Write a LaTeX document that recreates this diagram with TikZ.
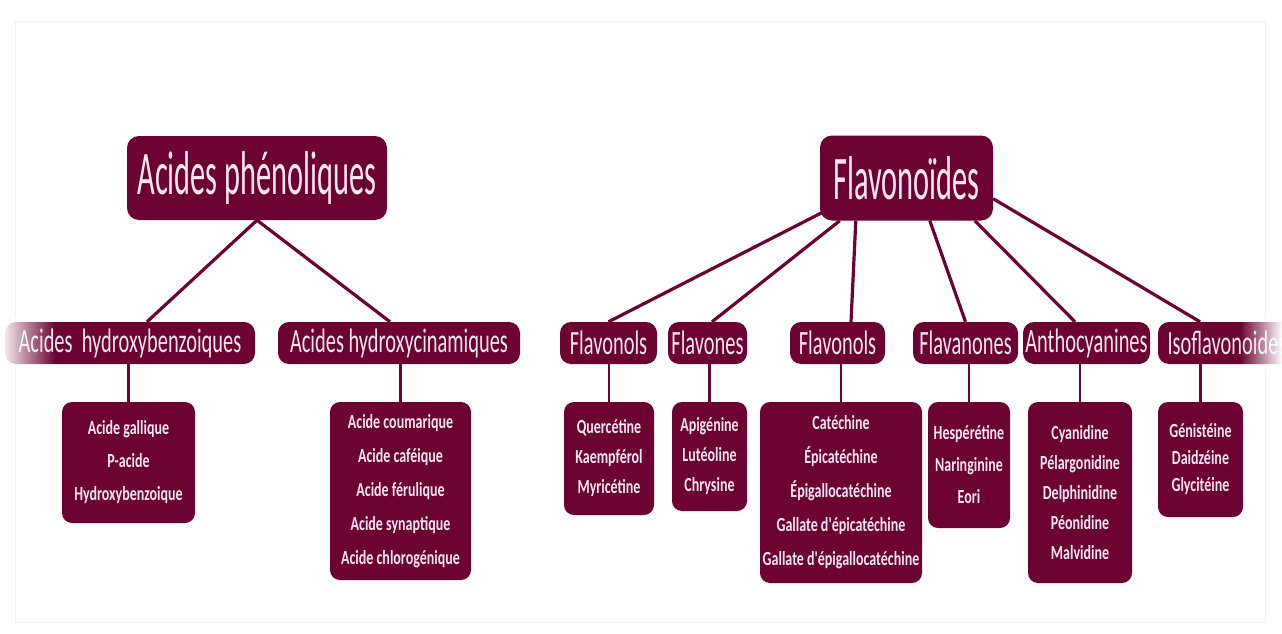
\documentclass[tikz,border=0pt]{standalone}
\usepackage{fontspec}
\usetikzlibrary{backgrounds,fadings,calc}
\newfontfamily\ftitle[FakeStretch=0.49]{Carlito}
\newfontfamily\fmid[FakeStretch=0.6]{Carlito}
\newfontfamily\fleaf[FakeStretch=0.7]{Carlito}
\definecolor{maroon}{RGB}{108,2,50}
\definecolor{pinkw}{RGB}{250,230,240}
\tikzset{
  box/.style={fill=maroon, text=pinkw, inner sep=0pt, align=center},
  titlebox/.style={box, rounded corners=12pt, font=\ftitle\fontsize{62pt}{70pt}\selectfont},
  midbox/.style={box, rounded corners=11pt, minimum height=42pt, font=\fmid\fontsize{34pt}{40pt}\selectfont},
  leafbox/.style={box, rounded corners=10pt, font=\fleaf\bfseries\fontsize{20pt}{#1pt}\selectfont},
  link/.style={draw=maroon, line width=3.2pt},
  drop/.style={draw=maroon, line width=2.4pt}
}
\begin{document}
\begin{tikzpicture}[x=1pt,y=-1pt]
\useasboundingbox (0,0) rectangle (1282,634);
\draw[gray!10, line width=1pt] (15,22) rectangle (1265,622);

% titles
\node[titlebox, minimum width=260pt, minimum height=84pt] (ap) at (257,178) {Acides phénoliques};
\node[titlebox, minimum width=173pt, minimum height=85pt] (fl) at (906.5,178) {Flavonoïdes};

% level 2
\node[midbox, minimum width=250pt] (a1) at (130,343) {Acides~~hydroxybenzoiques};
\node[midbox, minimum width=242pt] (a2) at (399,343) {Acides hydroxycinamiques};
\node[midbox, minimum width=97pt] (g1) at (608.5,343) {Flavonols};
\node[midbox, minimum width=79pt] (g2) at (707.5,343) {Flavones};
\node[midbox, minimum width=95pt] (g3) at (837.5,343) {Flavonols};
\node[midbox, minimum width=105pt] (g4) at (965.5,343) {Flavanones};
\node[midbox, minimum width=127pt] (g5) at (1086.5,343) {Anthocyanines};
\node[midbox, minimum width=138pt] (g6) at (1227,343) {Isoflavonoides};

% leaves
\node[leafbox=33, minimum width=133pt, minimum height=121pt] (l1) at (128.5,462.5) {Acide gallique\\P-acide\\Hydroxybenzoique};
\node[leafbox=34, minimum width=141pt, minimum height=178pt] (l2) at (400.5,491) {Acide coumarique\\Acide caféique\\Acide férulique\\Acide synaptique\\Acide chlorogénique};
\node[leafbox=30, minimum width=90pt, minimum height=113pt] (f1) at (609,458.5) {Quercétine\\Kaempférol\\Myricétine};
\node[leafbox=30, minimum width=75pt, minimum height=109pt] (f2) at (709.5,456.5) {Apigénine\\Lutéoline\\Chrysine};
\node[leafbox=34, minimum width=162pt, minimum height=181pt] (f3) at (841,492.5) {Catéchine\\Épicatéchine\\Épigallocatéchine\\Gallate d'épicatéchine\\Gallate d'épigallocatéchine};
\node[leafbox=32, minimum width=82pt, minimum height=126pt] (f4) at (969,465) {Hespérétine\\Naringinine\\Eori};
\node[leafbox=30, minimum width=104pt, minimum height=181pt] (f5) at (1080,492.5) {Cyanidine\\Pélargonidine\\Delphinidine\\Péonidine\\Malvidine};
\node[leafbox=27, minimum width=85pt, minimum height=115pt] (f6) at (1200.5,459.5) {Génistéine\\Daidzéine\\Glycitéine};

\begin{pgfonlayer}{background}
  \draw[link] (ap.south) -- ([xshift=17pt]a1.north);
  \draw[link] (ap.south) -- ([xshift=-9pt]a2.north);
  \draw[link] ([xshift=2pt,yshift=8pt]fl.south west) -- (g1.north);
  \draw[link] ([xshift=20pt]fl.south west) -- ([xshift=4.5pt]g2.north);
  \draw[link] ([xshift=36pt]fl.south west) -- ([xshift=13.5pt]g3.north);
  \draw[link] ([xshift=110pt]fl.south west) -- (g4.north);
  \draw[link] ([xshift=155pt]fl.south west) -- ([xshift=-11.5pt]g5.north);
  \draw[link] ([yshift=22pt]fl.south east) -- ([xshift=-27pt]g6.north);
  \draw[drop] (a1.south -| l1.north) -- (l1.north);
  \draw[drop] (a2.south -| l2.north) -- (l2.north);
  \draw[drop] (g1.south -| f1.north) -- (f1.north);
  \draw[drop] (g2.south -| f2.north) -- (f2.north);
  \draw[drop] (g3.south -| f3.north) -- (f3.north);
  \draw[drop] (g4.south -| f4.north) -- (f4.north);
  \draw[drop] (g5.south -| f5.north) -- (f5.north);
  \draw[drop] (g6.south -| f6.north) -- (f6.north);
\end{pgfonlayer}

% faded edges
\fill[white, path fading=east] (0,316) rectangle (55,370);
\fill[white, path fading=west] (1240,316) rectangle (1282,370);
\end{tikzpicture}
\end{document}
